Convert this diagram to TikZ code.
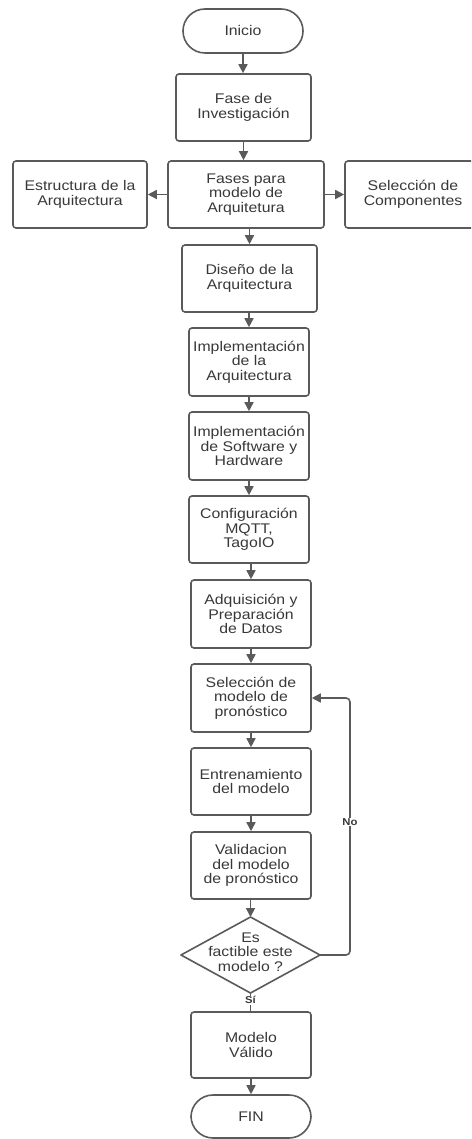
\documentclass[tikz,border=0pt]{standalone}
\usepackage{fontspec}
\setmainfont{Liberation Sans}[FakeStretch=1.13]
\usetikzlibrary{arrows.meta}
\definecolor{linegray}{HTML}{5A5A5A}
\definecolor{textgray}{HTML}{383838}
\begin{document}
\begin{tikzpicture}[x=1pt,y=-1pt,
  every node/.style={font=\fontsize{14}{14.7}\selectfont, text=textgray, align=center, inner sep=0pt},
  stepbox/.style={draw=linegray, line width=1.6pt, fill=white, rounded corners=3pt,
    minimum width=120pt, minimum height=67pt},
  term/.style={draw=linegray, line width=1.6pt, fill=white, rounded corners=22pt,
    minimum width=120pt, minimum height=44pt},
  outline/.style={draw=linegray, line width=1.6pt, line join=round, fill=white},
  arr/.style={draw=linegray, line width=1.6pt, -{Triangle[length=9pt,width=9pt]}},
  conn/.style={draw=linegray, line width=1.6pt},
  tag/.style={font=\fontsize{10}{11}\selectfont\bfseries, fill=white, inner sep=1pt}]
\useasboundingbox (0,0) rectangle (471,1139);
\clip (0,0) rectangle (471,1139);

% main column
\node[term] (inicio) at (243,31) {Inicio};
\node[stepbox, minimum width=135pt] (fase) at (243.5,107.5) {Fase de\\Investigación};
\node[stepbox, minimum width=156pt] (fases) at (246,194.5) {Fases para\\modelo de\\Arquitetura};
\node[stepbox, minimum width=134pt] (estr) at (80,194.5) {Estructura de la\\Arquitectura};
\node[stepbox, minimum width=136pt] (selc) at (413,194.5) {Selección de\\Componentes};
\node[stepbox, minimum width=135pt] (diseno) at (249.5,278.5) {Diseño de la\\Arquitectura};
\node[stepbox, minimum height=68pt] (implA) at (249,362) {Implementación\\de la\\Arquitectura};
\node[stepbox, minimum height=68pt] (implS) at (249,446) {Implementación\\de Software y\\Hardware};
\node[stepbox] (config) at (249,529.5) {Configuración\\MQTT,\\TagoIO};
\node[stepbox, minimum height=68pt] (adq) at (251,614) {Adquisición y\\Preparación\\de Datos};
\node[stepbox, minimum height=68pt] (selm) at (251,698) {Selección de\\modelo de\\pronóstico};
\node[stepbox] (entr) at (251,781.5) {Entrenamiento\\del modelo};
\node[stepbox] (valid) at (251,865.5) {Validacion\\del modelo\\de pronóstico};

% decision diamond, drawn from its four corners
\coordinate (decN) at (250.5,917);
\coordinate (decE) at (320,955);
\coordinate (decS) at (250.5,993);
\coordinate (decW) at (181,955);
\draw[outline] (decN) -- (decE) -- (decS) -- (decW) -- cycle;
\node (dec) at (250.5,952) {Es\\factible este\\modelo ?};

\node[stepbox, minimum height=66pt] (valido) at (251,1045) {Modelo\\Válido};
\node[term, minimum height=43pt] (fin) at (251,1116.5) {FIN};

% flow connectors
\draw[arr] (inicio.south) -- (inicio.south |- fase.north);
\draw[arr] (fase.south) -- (fase.south |- fases.north);
\draw[arr] (fases.west) -- (estr.east);
\draw[arr] (fases.east) -- (selc.west);
\draw[arr] (diseno.north |- fases.south) -- (diseno.north);
\draw[arr] (implA.north |- diseno.south) -- (implA.north);
\draw[arr] (implS.north |- implA.south) -- (implS.north);
\draw[arr] (config.north |- implS.south) -- (config.north);
\draw[arr] (adq.north |- config.south) -- (adq.north);
\draw[arr] (selm.north |- adq.south) -- (selm.north);
\draw[arr] (entr.north |- selm.south) -- (entr.north);
\draw[arr] (valid.north |- entr.south) -- (valid.north);
\draw[arr] (decN |- valid.south) -- (decN);
\draw[conn] (decS) -- (decS |- valido.north)
  node[tag, pos=0.4] (si) {Sí};
\draw[arr, rounded corners=4pt] (decE) -- (350,955) -- (350,698) -- (selm.east);
\node[tag] (no) at (350,822) {No};
\draw[arr] (fin.north |- valido.south) -- (fin.north);
\end{tikzpicture}
\end{document}
